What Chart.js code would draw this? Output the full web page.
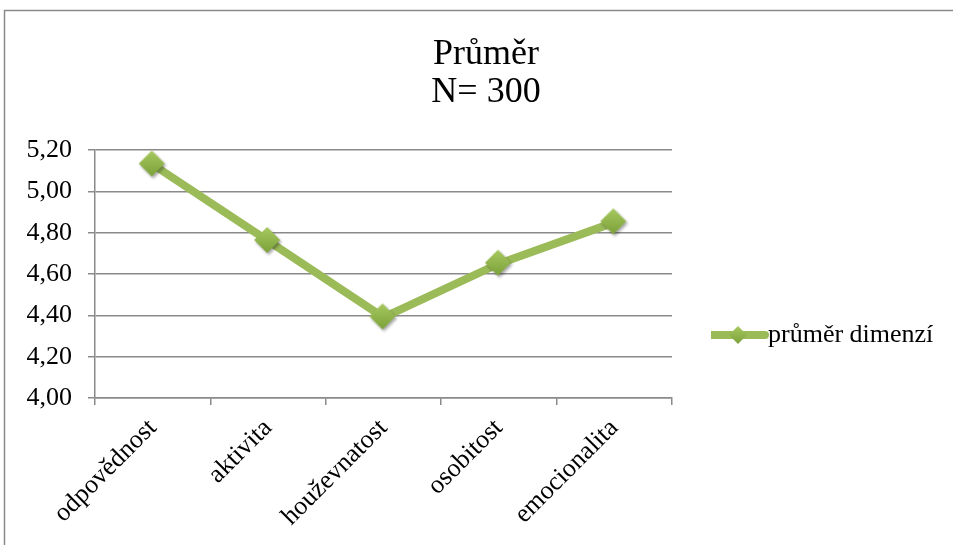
<!DOCTYPE html>
<html>
<head>
<meta charset="utf-8">
<script src="https://cdn.jsdelivr.net/npm/chart.js@4.4.1/dist/chart.umd.min.js"></script>
<style>
  html, body { margin: 0; padding: 0; background: #fff; }
  #wrap { width: 953px; height: 545px; }
</style>
</head>
<body>
<div id="wrap"><canvas id="prumer" width="953" height="545"></canvas></div>
<script>
const dimenze = ["odpovědnost", "aktivita", "houževnatost", "osobitost", "emocionalita"];
const prumerDimenzi = [5.13, 4.76, 4.39, 4.65, 4.85];
const nadpis = ["Průměr", "N= 300"];
const nazevRady = "průměr dimenzí";

const zelena = "#9BBB59";
const seda = "#8a8a8a";
const pismo = "'Liberation Serif', 'Times New Roman', serif";

// diamond marker with a soft shadow
function kosoctverec(half) {
  const size = half * 2 + 10;
  const c = document.createElement("canvas");
  c.width = size; c.height = size;
  const g = c.getContext("2d");
  const cx = size / 2 - 1, cy = size / 2 - 1;
  g.shadowColor = "rgba(0,0,0,0.35)";
  g.shadowBlur = 3;
  g.shadowOffsetX = 1.5;
  g.shadowOffsetY = 2;
  const grad = g.createLinearGradient(0, cy - half, 0, cy + half);
  grad.addColorStop(0, "#a6c85f");
  grad.addColorStop(1, "#7da13a");
  g.fillStyle = grad;
  g.beginPath();
  g.moveTo(cx, cy - half);
  g.lineTo(cx + half, cy);
  g.lineTo(cx, cy + half);
  g.lineTo(cx - half, cy);
  g.closePath();
  g.fill();
  return c;
}

// legend sample: thick line with a small diamond in the middle
function vzorekLegendy() {
  const c = document.createElement("canvas");
  c.width = 62; c.height = 24;
  const g = c.getContext("2d");
  g.strokeStyle = zelena;
  g.lineWidth = 8;
  g.lineCap = "round";
  g.beginPath();
  g.moveTo(4, 12);
  g.lineTo(58, 12);
  g.stroke();
  const grad = g.createLinearGradient(0, 3, 0, 21);
  grad.addColorStop(0, "#a6c85f");
  grad.addColorStop(1, "#7da13a");
  g.fillStyle = grad;
  g.beginPath();
  g.moveTo(31, 3);
  g.lineTo(40, 12);
  g.lineTo(31, 21);
  g.lineTo(22, 12);
  g.closePath();
  g.fill();
  return c;
}

const bod = kosoctverec(13);
const vzorek = vzorekLegendy();

const ramecek = {
  id: "ramecek",
  beforeDraw(chart) {
    const ctx = chart.ctx;
    ctx.save();
    ctx.fillStyle = "#fff";
    ctx.fillRect(0, 0, chart.width, chart.height);
    ctx.strokeStyle = seda;
    ctx.lineWidth = 1.5;
    ctx.strokeRect(4.5, 10.5, 1000, 600);
    ctx.restore();
  },
  afterLayout(chart) {
    // title centred over the whole frame, legend moved to the right of the plot
    const t = chart.titleBlock;
    t.left = 0; t.right = 972;
    const l = chart.legend;
    l.left = 711; l.right = 953; l.top = 312; l.bottom = 370;
  }
};

new Chart("prumer", {
  type: "line",
  data: {
    labels: dimenze,
    datasets: [{
      label: nazevRady,
      data: prumerDimenzi,
      borderColor: zelena,
      borderWidth: 8,
      pointStyle: bod,
      pointRadius: 13,
      tension: 0
    }]
  },
  options: {
    responsive: false,
    animation: false,
    events: [],
    layout: { padding: { top: 10, right: 281, left: 0, bottom: 0 } },
    plugins: {
      title: {
        display: true,
        text: nadpis,
        color: "#000",
        font: { family: pismo, size: 36, weight: "normal", lineHeight: 1.07 },
        padding: { top: 25, bottom: 38 }
      },
      legend: {
        position: "chartArea",
        align: "start",
        labels: {
          color: "#000",
          font: { family: pismo, size: 26 },
          usePointStyle: true,
          pointStyleWidth: 34,
          padding: 10,
          generateLabels(chart) {
            const items = Chart.defaults.plugins.legend.labels.generateLabels(chart);
            items.forEach(i => { i.pointStyle = vzorek; });
            return items;
          }
        }
      },
      tooltip: { enabled: false }
    },
    scales: {
      x: {
        offset: true,
        grid: { offset: true, drawOnChartArea: false, drawTicks: true, tickLength: 7, color: seda, lineWidth: 1.5 },
        border: { color: seda, width: 1.5 },
        ticks: { color: "#000", font: { family: pismo, size: 26 }, minRotation: 45, maxRotation: 45, padding: 8 },
        afterFit(scale) { scale.height = 147; }
      },
      y: {
        min: 4,
        max: 5.2,
        grid: { color: seda, lineWidth: 1.5, tickLength: 7 },
        border: { color: seda, width: 1.5 },
        ticks: {
          stepSize: 0.2,
          color: "#000",
          font: { family: pismo, size: 26 },
          padding: 16,
          callback: v => v.toFixed(2).replace(".", ",")
        },
        afterFit(scale) { scale.width = 95; }
      }
    }
  },
  plugins: [ramecek]
});
</script>
</body>
</html>
